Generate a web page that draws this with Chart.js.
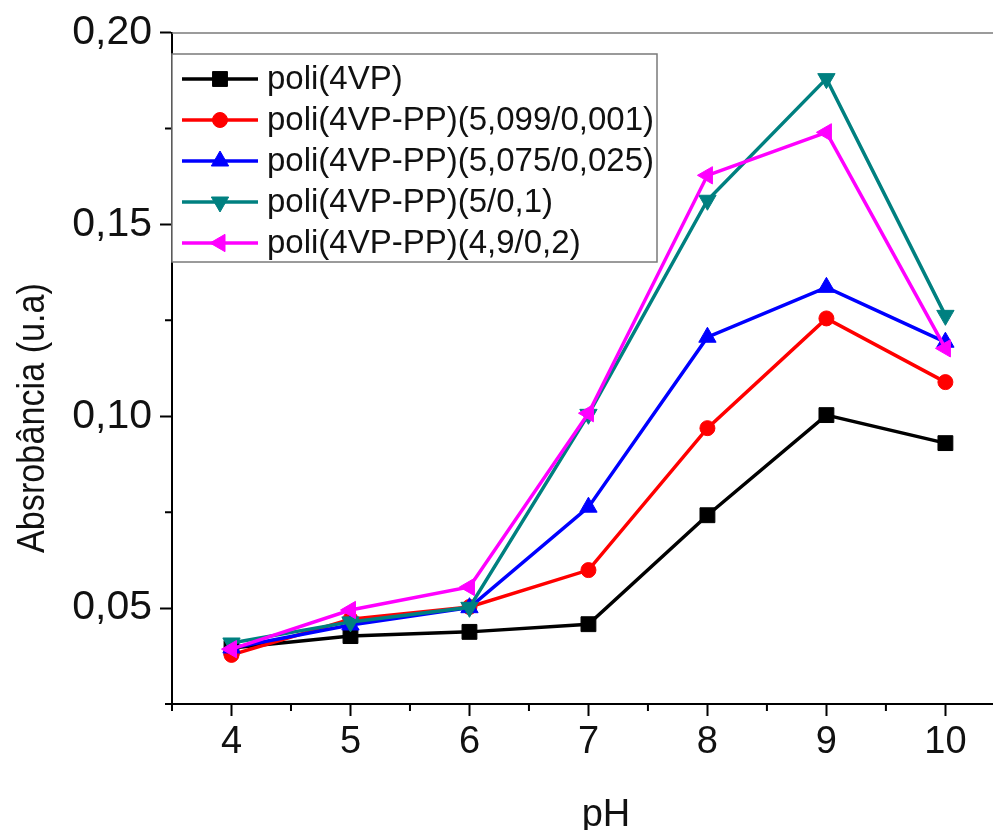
<!DOCTYPE html>
<html>
<head>
<meta charset="utf-8">
<script src="https://cdn.jsdelivr.net/npm/chart.js@4.4.1/dist/chart.umd.min.js"></script>
<style>
  html, body { margin: 0; padding: 0; background: #fff; }
  canvas { display: block; }
</style>
</head>
<body>
<canvas id="c" width="993" height="830"></canvas>
<script>
// Absorbance vs pH for the polymer series
const pH = [4, 5, 6, 7, 8, 9, 10];
const poli4VP   = [0.0396, 0.0427, 0.0438, 0.0458, 0.0742, 0.1003, 0.0930];
const pp5099    = [0.0378, 0.0471, 0.0503, 0.0599, 0.0969, 0.1255, 0.1089];
const pp5075    = [0.0396, 0.0456, 0.0501, 0.0763, 0.1206, 0.1336, 0.1193];
const pp5_01    = [0.0409, 0.0464, 0.0502, 0.1005, 0.1563, 0.1880, 0.1263];
const pp49_02   = [0.0393, 0.0495, 0.0555, 0.1008, 0.1628, 0.1740, 0.1177];

const seriesLabels = [
  'poli(4VP)',
  'poli(4VP-PP)(5,099/0,001)',
  'poli(4VP-PP)(5,075/0,025)',
  'poli(4VP-PP)(5/0,1)',
  'poli(4VP-PP)(4,9/0,2)'
];

const xTicks = [4, 5, 6, 7, 8, 9, 10];
const xMinorTicks = [3.5, 4.5, 5.5, 6.5, 7.5, 8.5, 9.5];
const yTicks = [0.05, 0.10, 0.15, 0.20];
const yTickLabels = ['0,05', '0,10', '0,15', '0,20'];
const yMinorTicks = [0.025, 0.075, 0.125, 0.175];

const xTitle = 'pH';
const yTitle = 'Absrobância (u.a)';

const FONT = 'Arial, "Liberation Sans", sans-serif';
const INK = '#111';

const styles = [
  { color: '#000000', pointStyle: 'rect',     rotation: 0,   radius: 10.5 },
  { color: '#ff0000', pointStyle: 'circle',   rotation: 0,   radius: 7.5 },
  { color: '#0000ff', pointStyle: 'triangle', rotation: 0,   radius: 10 },
  { color: '#008080', pointStyle: 'triangle', rotation: 180, radius: 10 },
  { color: '#ff00ff', pointStyle: 'triangle', rotation: 270, radius: 10 }
];

const seriesValues = [poli4VP, pp5099, pp5075, pp5_01, pp49_02];

const datasets = seriesValues.map((vals, i) => ({
  label: seriesLabels[i],
  data: pH.map((x, j) => ({ x: x, y: vals[j] })),
  borderColor: styles[i].color,
  backgroundColor: styles[i].color,
  pointBackgroundColor: styles[i].color,
  pointBorderColor: styles[i].color,
  pointBorderWidth: 1,
  pointStyle: styles[i].pointStyle,
  pointRotation: styles[i].rotation,
  pointRadius: styles[i].radius,
  borderWidth: 3.5,
  tension: 0,
  order: seriesValues.length - i
}));

function marker(ctx, st, x, y) {
  if (Chart.helpers && Chart.helpers.drawPoint) {
    ctx.fillStyle = st.color;
    ctx.strokeStyle = st.color;
    ctx.lineWidth = 1;
    Chart.helpers.drawPoint(ctx, {
      pointStyle: st.pointStyle, rotation: st.rotation,
      radius: st.radius, borderWidth: 1
    }, x, y);
  }
}

// Frame top line, minor ticks, axis titles and the boxed legend
const decorations = {
  id: 'decorations',
  afterDraw(chart) {
    const ctx = chart.ctx;
    const area = chart.chartArea;
    const xs = chart.scales.x, ys = chart.scales.y;
    ctx.save();

    // top frame line
    ctx.strokeStyle = '#7a7a7a';
    ctx.lineWidth = 1.5;
    ctx.beginPath();
    ctx.moveTo(area.left, area.top + 0.5);
    ctx.lineTo(area.right, area.top + 0.5);
    ctx.stroke();

    // minor ticks
    ctx.strokeStyle = '#000';
    ctx.lineWidth = 2;
    ctx.beginPath();
    xMinorTicks.forEach(v => {
      const px = xs.getPixelForValue(v);
      ctx.moveTo(px, area.bottom);
      ctx.lineTo(px, area.bottom + 7);
    });
    yMinorTicks.forEach(v => {
      const py = ys.getPixelForValue(v);
      ctx.moveTo(area.left, py);
      ctx.lineTo(area.left - 7, py);
    });
    ctx.stroke();

    // axis titles
    ctx.fillStyle = INK;
    ctx.font = '38px ' + FONT;
    ctx.textAlign = 'center';
    ctx.textBaseline = 'alphabetic';
    ctx.fillText(xTitle, 606, 826);

    ctx.save();
    ctx.translate(34, 418);
    ctx.rotate(-Math.PI / 2);
    ctx.scale(0.9, 1);
    ctx.font = '38px ' + FONT;
    ctx.textBaseline = 'middle';
    ctx.fillText(yTitle, 0, 0);
    ctx.restore();

    // legend box
    const bx = area.left, by = 54, bw = 485, bh = 208;
    ctx.fillStyle = '#fff';
    ctx.fillRect(bx, by, bw, bh);
    ctx.strokeStyle = '#7a7a7a';
    ctx.lineWidth = 1.5;
    ctx.strokeRect(bx, by, bw, bh);

    chart.data.datasets.forEach((ds, i) => {
      const y = 79 + i * 41;
      const st = styles[i];
      ctx.strokeStyle = st.color;
      ctx.lineWidth = 3.5;
      ctx.beginPath();
      ctx.moveTo(182, y);
      ctx.lineTo(258, y);
      ctx.stroke();
      marker(ctx, st, 220, y);
      ctx.fillStyle = INK;
      ctx.font = '33px ' + FONT;
      ctx.textAlign = 'left';
      ctx.textBaseline = 'middle';
      ctx.fillText(ds.label, 267, y + 1);
    });

    ctx.restore();
  }
};

new Chart(document.getElementById('c'), {
  type: 'line',
  data: { datasets: datasets },
  options: {
    responsive: false,
    animation: false,
    devicePixelRatio: 1,
    layout: { autoPadding: false, padding: { top: 32, left: 0, right: 0, bottom: 0 } },
    plugins: { legend: { display: false }, tooltip: { enabled: false } },
    scales: {
      x: {
        type: 'linear',
        min: 3.5,
        max: 10.4,
        afterFit(scale) { scale.height = 126; },
        afterBuildTicks(scale) { scale.ticks = xTicks.map(v => ({ value: v })); },
        ticks: {
          color: INK,
          font: { size: 38, family: FONT },
          padding: 4,
          maxRotation: 0,
          autoSkip: false,
          callback: v => String(v)
        },
        grid: { drawOnChartArea: false, drawTicks: true, tickLength: 12, tickColor: '#000', tickWidth: 2 },
        border: { display: true, color: '#000', width: 2 }
      },
      y: {
        type: 'linear',
        min: 0.025,
        max: 0.20,
        afterFit(scale) { scale.width = 172; },
        afterBuildTicks(scale) { scale.ticks = yTicks.map(v => ({ value: v })); },
        ticks: {
          color: INK,
          font: { size: 41, family: FONT },
          padding: 8,
          autoSkip: false,
          callback: function (v) {
            const k = yTicks.findIndex(t => Math.abs(t - v) < 1e-9);
            return k >= 0 ? yTickLabels[k] : '';
          }
        },
        grid: { drawOnChartArea: false, drawTicks: true, tickLength: 12, tickColor: '#000', tickWidth: 2 },
        border: { display: true, color: '#000', width: 2 }
      }
    }
  },
  plugins: [decorations]
});
</script>
</body>
</html>
